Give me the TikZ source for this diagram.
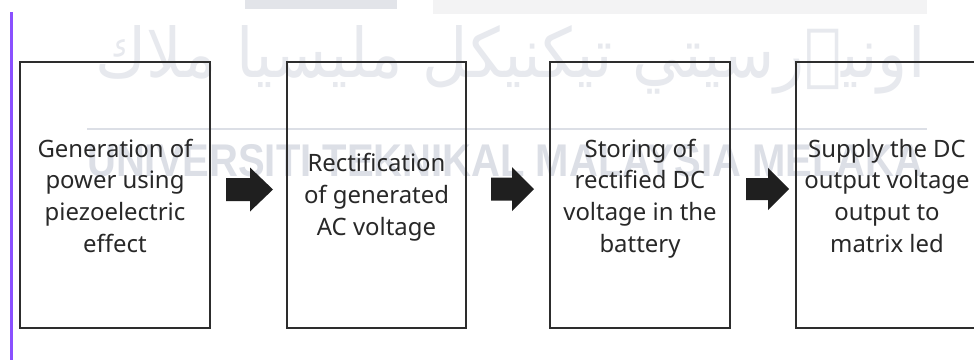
\documentclass[tikz,border=0pt]{standalone}
\usepackage{fontspec}
\setmainfont{Noto Sans}
\newfontfamily\jawifont[Script=Arabic]{DejaVu Sans}
\newfontfamily\wmfont{Liberation Sans}
\TeXXeTstate=1
\usepackage{graphicx}
\definecolor{boxgray}{RGB}{45,45,45}
\definecolor{txtgray}{RGB}{40,40,40}
\definecolor{wmgray}{RGB}{220,223,230}
\definecolor{jawigray}{RGB}{231,233,238}
\definecolor{purp}{RGB}{138,80,255}
\definecolor{stripa}{RGB}{226,228,233}
\definecolor{stripb}{RGB}{243,243,244}
\begin{document}
\begin{tikzpicture}[x=1bp,y=-1bp,
  box/.style={draw=boxgray, line width=2bp, minimum height=266bp, inner sep=0pt},
  boxtext/.style={text=txtgray, align=center, inner sep=0pt, font=\fontsize{24}{32}\selectfont},
  blockarrow/.style={fill=black!88, draw=none},
  wm/.style={text=wmgray, inner sep=0pt}]
\clip (0,0) rectangle (974,360);
\fill[white] (0,0) rectangle (974,360);
% top strips
\fill[stripa] (245,0) rectangle (397,9);
\fill[stripb] (433,0) rectangle (927,14);
% watermark
\node[wm, text=jawigray, anchor=base west] (jawi) at (95,77) {\resizebox{830bp}{52bp}{\jawifont\beginR اونيۏرسيتي تيكنيكل مليسيا ملاك\endR}};
\draw[wmgray, line width=2bp] (87,129) -- (927,129);
\node[wm, anchor=south west] (uni) at (87,177) {\resizebox{836bp}{32bp}{\wmfont\bfseries UNIVERSITI TEKNIKAL MALAYSIA MELAKA}};
% purple bar
\draw[purp, line width=3bp] (11.5,12) -- (11.5,360);
% boxes
\node[box, minimum width=190bp] (b1) at (115,195) {};
\node[box, minimum width=179bp] (b2) at (376.5,195) {};
\node[box, minimum width=180bp] (b3) at (640,195) {};
\node[box, minimum width=182bp] (b4) at (887,195) {};
\node[boxtext] (t1) at ([yshift=-3.5bp]b1.center) {\strut Generation of\\power using\\piezoelectric\\effect\strut};
\node[boxtext] (t2) at ([yshift=-2bp]b2.center) {\strut Rectification\\of generated\\AC voltage\strut};
\node[boxtext] (t3) at ([yshift=-3.5bp]b3.center) {\strut Storing of\\rectified DC\\voltage in the\\battery\strut};
\node[boxtext] (t4) at ([yshift=-3.5bp]b4.center) {\strut Supply the DC\\output voltage\\output to\\matrix led\strut};
% block arrows
\coordinate (a1) at (226,189.5);
\coordinate (a2) at (491,189);
\coordinate (a3) at (746,189);
\fill[blockarrow] (a1) ++(0,-11.5) -- ++(24,0) -- ++(0,-10.5) -- ++(23,22) -- ++(-23,22) -- ++(0,-10.5) -- ++(-24,0) -- cycle;
\fill[blockarrow] (a2) ++(0,-11.5) -- ++(21,0) -- ++(0,-10.5) -- ++(22,22) -- ++(-22,22) -- ++(0,-10.5) -- ++(-21,0) -- cycle;
\fill[blockarrow] (a3) ++(0,-11) -- ++(22,0) -- ++(0,-10) -- ++(21,21) -- ++(-21,21) -- ++(0,-10) -- ++(-22,0) -- cycle;
\end{tikzpicture}
\end{document}
